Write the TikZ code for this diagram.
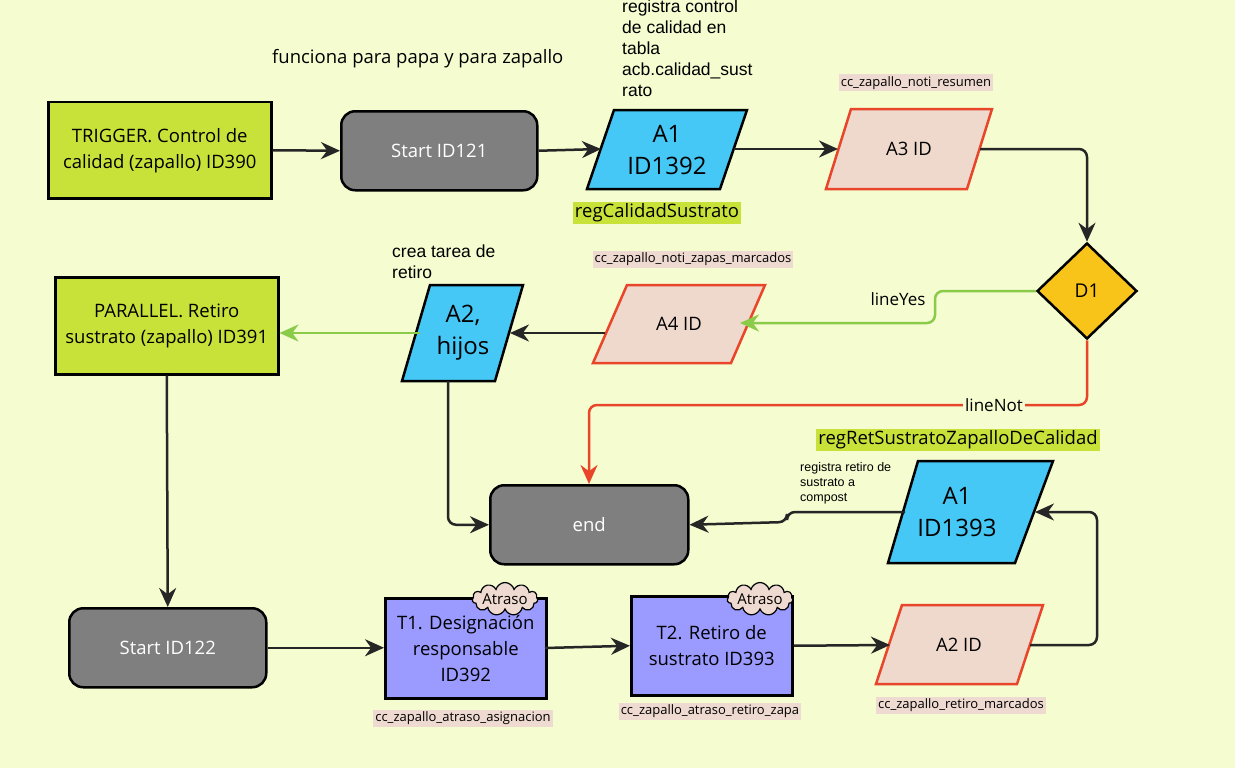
\documentclass[tikz,border=0pt]{standalone}
\usepackage{fontspec}
\setmainfont{Open Sans}
\newfontfamily\arialf{Liberation Sans}
\usetikzlibrary{shapes.geometric,shapes.symbols,arrows.meta}
\definecolor{bg}{HTML}{F4FCD0}
\definecolor{lime}{HTML}{C9E23A}
\definecolor{gr}{HTML}{7F7F7F}
\definecolor{sky}{HTML}{45C8F5}
\definecolor{peach}{HTML}{EFD9CC}
\definecolor{redl}{HTML}{E8452A}
\definecolor{gold}{HTML}{F8C41A}
\definecolor{vio}{HTML}{9A9AFF}
\definecolor{greenl}{HTML}{8BCB4A}
\definecolor{hl}{HTML}{EEDAD0}
\begin{document}
\begin{tikzpicture}[x=1pt,y=-1pt,
  box/.style={draw=black,line width=2.5pt,align=center,font=\fontsize{18.5}{26}\selectfont,anchor=north west,inner sep=0pt},
  rbox/.style={box,rounded corners=14pt,fill=gr,text=white},
  pg/.style={line width=2.5pt,line join=miter},
  blue/.style={pg,draw=black,fill=sky},
  pink/.style={pg,draw=redl,fill=peach},
  arr/.style={line width=2.5pt,draw=black!85,-{Stealth[length=19pt,width=17pt]},rounded corners=8pt},
  garr/.style={arr,draw=greenl},
  rarr/.style={arr,draw=redl},
  ptxt/.style={align=center,font=\fontsize{18.5}{22}\selectfont},
  btxt/.style={align=center,font=\fontsize{24}{32}\selectfont},
  tag/.style={fill=hl,font=\fontsize{13}{15}\selectfont,inner sep=2pt},
  hi/.style={fill=lime,font=\fontsize{18.5}{22}\selectfont,inner sep=2pt},
  note/.style={font=\arialf\fontsize{17.5}{21}\selectfont,align=left,anchor=north west,inner sep=0pt},
  atr/.style={cloud,cloud puffs=11,draw=black,line width=1.2pt,fill=hl,font=\fontsize{15}{16}\selectfont,inner sep=0pt,minimum width=62pt,minimum height=22pt,aspect=3.2}
]
\fill[bg] (0,0) rectangle (1235,768);
\useasboundingbox (0,0) rectangle (1235,768);
% boxes
\node[box,fill=lime,minimum width=223pt,minimum height=96pt] (trig) at (47,101) {TRIGGER. Control de\\calidad (zapallo) ID390};
\node[rbox,minimum width=196pt,minimum height=79pt] (s121) at (340,110) {Start ID121};
\node[box,fill=lime,minimum width=223pt,minimum height=97pt] (par) at (54,276) {PARALLEL. Retiro\\sustrato (zapallo) ID391};
\node[rbox,minimum width=198pt,minimum height=79pt] (end) at (489,484) {end};
\node[rbox,minimum width=197pt,minimum height=79pt] (s122) at (68,607) {Start ID122};
\node[box,fill=vio,minimum width=161pt,minimum height=100pt] (t1) at (384,597) {T1. Designación\\responsable\\ID392};
\node[box,fill=vio,minimum width=161pt,minimum height=99pt] (t2) at (630,595) {T2. Retiro de\\sustrato ID393};
\node[atr] (c1) at (505,599) {Atraso};
\node[atr] (c2) at (760,599) {Atraso};
% parallelograms
\draw[blue] (614,110)--(747,110)--(720,189)--(587,189)--cycle;
\node[btxt] (a1) at (667,150) {A1\\ID1392};
\draw[pink] (851,109)--(992,109)--(967,189)--(826,189)--cycle;
\node[ptxt] (a3) at (909,149) {A3 ID};
\draw[pink] (627,285)--(765,285)--(731,363)--(593,363)--cycle;
\node[ptxt] (a4) at (679,324) {A4 ID};
\draw[blue] (430,285)--(523,285)--(495,381)--(402,381)--cycle;
\node[btxt] (a2h) at (463,333) {A2,\\hijos};
\draw[blue] (918,461)--(1053,461)--(1015,563)--(888,563)--cycle;
\node[btxt] (a1b) at (957,512) {A1\\ID1393};
\draw[pink] (902,605)--(1043,605)--(1017,684)--(876,684)--cycle;
\node[ptxt] (a2id) at (959,645) {A2 ID};
\node[diamond,draw=black,line width=2.5pt,fill=gold,minimum width=100pt,minimum height=96pt,inner sep=0pt,font=\fontsize{19}{20}\selectfont] (d1) at (1087,291) {D1};
% coordinates
\coordinate (a1l) at (601,149); \coordinate (a1r) at (734,149);
\coordinate (a3l) at (838,149); \coordinate (a3r) at (980,149);
\coordinate (a4l) at (605,333); \coordinate (a4r) at (740,323);
\coordinate (a2r) at (510,333); \coordinate (a2l) at (420,333); \coordinate (a2b) at (448,381);
\coordinate (a1bl) at (905,512); \coordinate (a1br) at (1035,512);
\coordinate (a2idl) at (890,645); \coordinate (a2idr) at (1030,645);
% labels
\node[font=\fontsize{18.5}{22}\selectfont,anchor=west,inner sep=0pt] (fun) at (272,59) {funciona para papa y para zapallo};
\node[note] (n1) at (622,0) {registra control\\de calidad en\\tabla\\acb.calidad\_sust\\rato};
\node[hi] (h1) at (657,213) {regCalidadSustrato};
\node[tag] (g1) at (916,83) {cc\_zapallo\_noti\_resumen};
\node[tag] (g2) at (693,259) {cc\_zapallo\_noti\_zapas\_marcados};
\node[note] (n2) at (392,245) {crea tarea de\\retiro};
\node[hi] (h2) at (958,440) {regRetSustratoZapalloDeCalidad};
\node[note,font=\arialf\fontsize{12.5}{15}\selectfont] (n3) at (800,462) {registra retiro de\\sustrato a\\compost};
\node[tag] (g3) at (463,718) {cc\_zapallo\_atraso\_asignacion};
\node[tag] (g4) at (710,711) {cc\_zapallo\_atraso\_retiro\_zapa};
\node[tag] (g5) at (961,705) {cc\_zapallo\_retiro\_marcados};
% connectors
\draw[arr] (trig.east) -- (s121.west);
\draw[arr] (s121.east) -- (a1l);
\draw[arr] (a1r) -- (a3l);
\draw[arr] (a3r) -| (d1.north);
\draw[garr] (d1.west) -- (935,291) |- (a4r);
\node[fill=bg,font=\fontsize{17}{19}\selectfont,inner sep=2pt] at (898,299) {lineYes};
\draw[arr] (a4l) -- (a2r);
\draw[garr] (a2l) -- (par.east |- a2l);
\draw[rarr] (d1.south) |- (589,405) -- (589,484);
\node[fill=bg,font=\fontsize{17}{19}\selectfont,inner sep=2pt] at (994,405) {lineNot};
\draw[arr] (a2b) |- (end.west);
\draw[arr] (a1bl) -- (787,512) -- (787,522) -- (end.east);
\draw[arr] (par.south) -- (s122.north);
\draw[arr] (s122.east) -- (t1.west |- s122.east);
\draw[arr] (545,648) -- (t2.west);
\draw[arr] (t2.east) -- (a2idl);
\draw[arr] (a2idr) -- (1097,645) -- (1097,512) -- (a1br);
\end{tikzpicture}
\end{document}
